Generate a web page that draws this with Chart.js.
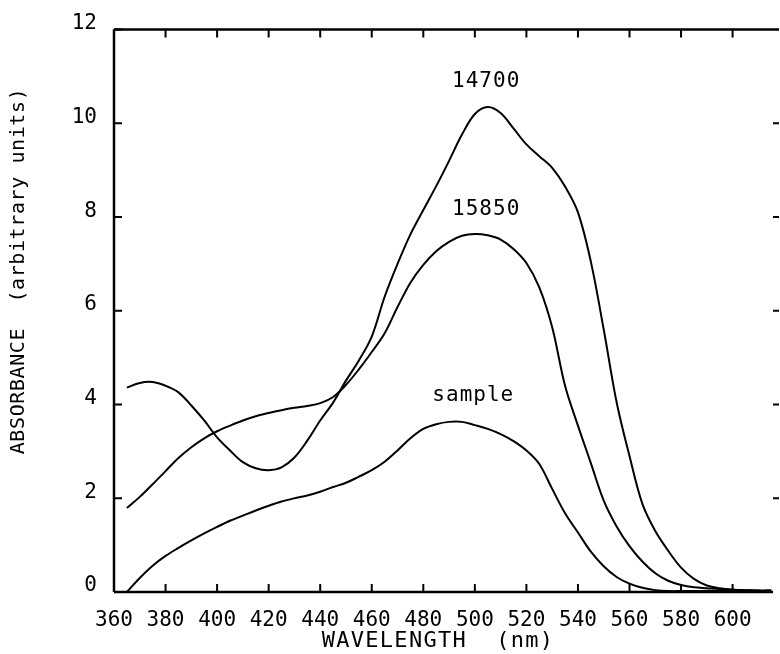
<!DOCTYPE html>
<html>
<head>
<meta charset="utf-8">
<script src="https://cdn.jsdelivr.net/npm/chart.js@4"></script>
<style>
  html, body { margin: 0; padding: 0; background: #fff; }
  #wrap { width: 780px; height: 654px; position: relative; }
</style>
</head>
<body>
<div id="wrap"><canvas id="c" width="780" height="654"></canvas></div>
<script>
// ---- data ----
const wavelengths = [365,370,375,380,385,390,395,400,405,410,415,420,425,430,435,440,445,450,455,460,
  465,470,475,480,485,490,495,500,505,510,515,520,525,530,535,540,545,550,555,560,
  565,570,575,580,585,590,595,600,605,610,615];
const abs14700 = [4.36,4.46,4.48,4.40,4.26,3.98,3.66,3.30,3.02,2.77,2.64,2.60,2.66,2.87,3.23,3.66,4.04,4.51,4.94,5.45,
  6.30,7.00,7.63,8.15,8.66,9.20,9.76,10.20,10.35,10.22,9.89,9.55,9.30,9.05,8.65,8.10,7.05,5.60,4.05,2.90,
  1.88,1.30,0.88,0.52,0.28,0.14,0.08,0.05,0.04,0.03,0.03];
const abs15850 = [1.79,2.03,2.30,2.58,2.86,3.09,3.28,3.43,3.55,3.66,3.75,3.82,3.88,3.93,3.97,4.03,4.16,4.42,4.75,5.12,
  5.52,6.08,6.60,6.98,7.27,7.47,7.60,7.64,7.61,7.52,7.32,7.02,6.50,5.65,4.40,3.55,2.75,1.95,1.40,0.98,
  0.65,0.40,0.24,0.15,0.10,0.08,0.06,0.05,0.04,0.03,0.03];
const absSample = [0.00,0.30,0.56,0.77,0.94,1.10,1.25,1.39,1.52,1.63,1.74,1.84,1.93,2.00,2.06,2.14,2.24,2.33,2.46,2.60,
  2.78,3.02,3.28,3.48,3.58,3.63,3.63,3.56,3.48,3.37,3.22,3.02,2.73,2.20,1.68,1.27,0.86,0.55,0.32,0.18,
  0.09,0.04,0.02,0.02,0.02,0.02,0.02,0.02,0.02,0.02,0.02];
const seriesNames = ['14700', '15850', 'sample'];
// curve label anchors (wavelength, absorbance)
const labelX = [504, 504, 499];
const labelY = [10.9, 8.15, 4.2];
const xTickValues = [360,380,400,420,440,460,480,500,520,540,560,580,600];
const yTickValues = [0,2,4,6,8,10,12];
const xTitle = 'WAVELENGTH  (nm)';
const yTitle = 'ABSORBANCE  (arbitrary units)';

const FONT = "'DejaVu Sans Mono', monospace";

function pts(vals) { return wavelengths.map((w, i) => ({ x: w, y: vals[i] })); }

const framePlugin = {
  id: 'frame',
  afterDraw(chart) {
    const { ctx, chartArea: a, scales } = chart;
    const xs = scales.x, ys = scales.y;
    ctx.save();
    ctx.strokeStyle = '#000';
    ctx.lineWidth = 2.5;
    ctx.lineCap = 'butt';
    ctx.beginPath();
    ctx.moveTo(a.left, a.top); ctx.lineTo(a.right, a.top);
    ctx.moveTo(a.left, a.top); ctx.lineTo(a.left, a.bottom);
    ctx.moveTo(a.left, a.bottom); ctx.lineTo(a.right - 6, a.bottom);
    ctx.stroke();
    ctx.lineWidth = 2;
    ctx.beginPath();
    const tl = 8;
    xTickValues.forEach(v => {
      const px = xs.getPixelForValue(v);
      ctx.moveTo(px, a.bottom); ctx.lineTo(px, a.bottom - tl);
      ctx.moveTo(px, a.top); ctx.lineTo(px, a.top + tl);
    });
    yTickValues.forEach(v => {
      const py = ys.getPixelForValue(v);
      ctx.moveTo(a.left, py); ctx.lineTo(a.left + tl, py);
      if (v > 0 && v < 12) { ctx.moveTo(a.right, py); ctx.lineTo(a.right - 6, py); }
    });
    ctx.stroke();

    ctx.fillStyle = '#000';
    ctx.textAlign = 'center';
    ctx.textBaseline = 'middle';
    ctx.font = '21px ' + FONT;
    ctx.letterSpacing = '1px';
    seriesNames.forEach((n, i) => {
      ctx.fillText(n, xs.getPixelForValue(labelX[i]) + 1, ys.getPixelForValue(labelY[i]));
    });

    ctx.font = '22px ' + FONT;
    ctx.letterSpacing = '1.3px';
    ctx.fillText(xTitle, 438, 641);
    ctx.font = '20px ' + FONT;
    ctx.letterSpacing = '0.6px';
    ctx.save();
    ctx.translate(19, 271);
    ctx.rotate(-Math.PI / 2);
    ctx.fillText(yTitle, 0, 0);
    ctx.restore();
    ctx.restore();
  }
};

const lineStyle = { borderColor: '#000', borderWidth: 2, pointRadius: 0, tension: 0.35, fill: false };

new Chart(document.getElementById('c'), {
  type: 'line',
  data: {
    datasets: [
      Object.assign({ label: seriesNames[0], data: pts(abs14700) }, lineStyle),
      Object.assign({ label: seriesNames[1], data: pts(abs15850) }, lineStyle),
      Object.assign({ label: seriesNames[2], data: pts(absSample) }, lineStyle)
    ]
  },
  options: {
    responsive: false,
    animation: false,
    layout: { padding: { top: 28, right: 1, left: 0, bottom: 0 } },
    plugins: { legend: { display: false }, tooltip: { enabled: false } },
    scales: {
      x: {
        type: 'linear', min: 360, max: 618,
        afterFit(s) { s.height = 62; },
        border: { display: false },
        grid: { display: false, drawTicks: false },
        ticks: {
          stepSize: 20, includeBounds: false, padding: 16, color: '#000', maxRotation: 0, autoSkip: false,
          font: { family: FONT, size: 21 },
          callback: v => (xTickValues.includes(v) ? String(v) : '')
        }
      },
      y: {
        min: 0, max: 12,
        afterFit(s) { s.width = 114; },
        border: { display: false },
        grid: { display: false, drawTicks: false },
        ticks: {
          stepSize: 2, padding: 17, color: '#000', labelOffset: -6,
          font: { family: FONT, size: 21 },
          callback: v => (yTickValues.includes(v) ? String(v) : '')
        }
      }
    }
  },
  plugins: [framePlugin]
});
</script>
</body>
</html>
